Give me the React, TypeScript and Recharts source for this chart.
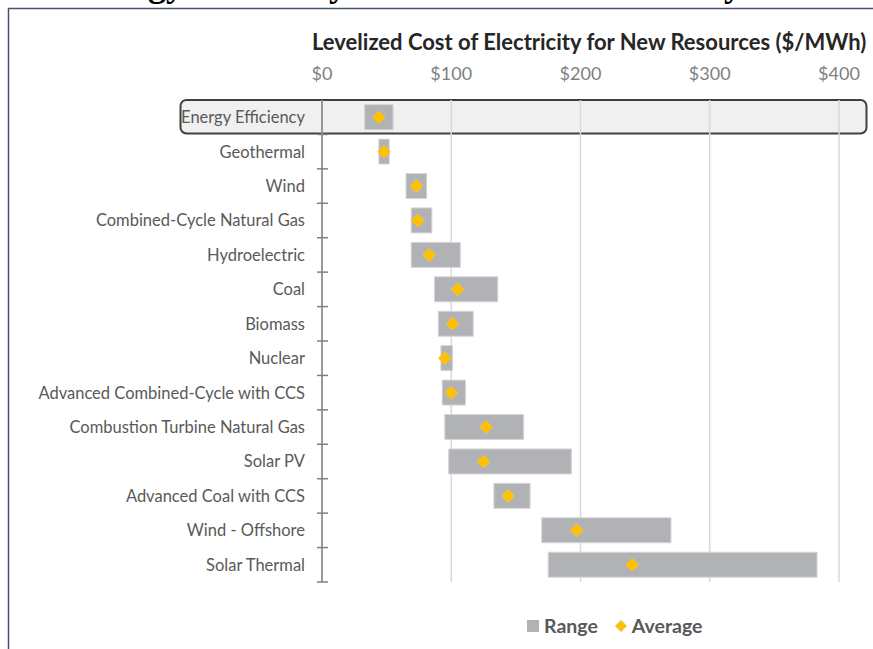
import React from "react";
import {
  ComposedChart,
  Bar,
  Line,
  XAxis,
  YAxis,
  CartesianGrid,
  Legend,
} from "recharts";

const categories = [
  "Energy Efficiency",
  "Geothermal",
  "Wind",
  "Combined-Cycle Natural Gas",
  "Hydroelectric",
  "Coal",
  "Biomass",
  "Nuclear",
  "Advanced Combined-Cycle with CCS",
  "Combustion Turbine Natural Gas",
  "Solar PV",
  "Advanced Coal with CCS",
  "Wind - Offshore",
  "Solar Thermal",
];
const rangeLow = [33, 44, 65, 69, 69, 87, 90, 92, 93, 95, 98, 133, 170, 175];
const rangeHigh = [55, 52, 81, 85, 107, 136, 117, 101, 111, 156, 193, 161, 270, 383];
const averages = [44, 48, 73, 74, 83, 105, 101, 95, 100, 127, 125, 144, 197, 240];
const xTicks = [0, 100, 200, 300, 400];

const chartTitle = "Levelized Cost of Electricity for New Resources ($/MWh)";
const pageTitle = "Energy Efficiency is the Lowest Cost Utility Resource";

const data = categories.map((name, i) => ({
  name,
  range: [rangeLow[i], rangeHigh[i]],
  avg: averages[i],
}));

const W = 873;
const H = 649;
const FONT = "Lato, 'Open Sans', sans-serif";
const PLOT_LEFT = 322;
const PLOT_TOP = 100;
const PLOT_BOTTOM = 582;
const PLOT_RIGHT = 839;
const X_AXIS_H = 40;
const LABEL_GAP = 17;
const BAND = (PLOT_BOTTOM - PLOT_TOP) / categories.length;

const CategoryTick = (props: any) => {
  const { x, y, payload } = props;
  const axisX = x + LABEL_GAP;
  return (
    <g>
      <text
        x={x}
        y={y}
        dy="0.36em"
        textAnchor="end"
        fill="#595959"
        fontSize={16.5}
        fontFamily={FONT}
      >
        {payload.value}
      </text>
      <line
        x1={axisX - 5}
        x2={axisX + 6}
        y1={y + BAND / 2}
        y2={y + BAND / 2}
        stroke="#808080"
        strokeWidth={1.5}
      />
    </g>
  );
};

const Diamond = (props: any) => {
  const { cx, cy } = props;
  if (cx == null || cy == null) return null;
  const r = 6.5;
  return (
    <polygon
      points={`${cx},${cy - r} ${cx + r},${cy} ${cx},${cy + r} ${cx - r},${cy}`}
      fill="#FFC000"
      stroke="#FFCC33"
      strokeWidth={0.5}
    />
  );
};

const LegendContent = () => (
  <div
    style={{
      display: "flex",
      alignItems: "center",
      fontFamily: FONT,
      fontWeight: 700,
      fontSize: 19.5,
      color: "#595959",
      whiteSpace: "nowrap",
    }}
  >
    <svg width={12} height={12} style={{ marginRight: 5 }}>
      <rect x={0} y={0} width={12} height={12} fill="#B1B2B5" />
    </svg>
    <span>Range</span>
    <svg width={14} height={14} style={{ marginLeft: 16, marginRight: 4 }}>
      <polygon points="7,1 13,7 7,13 1,7" fill="#FFC000" stroke="#D9D9D9" strokeWidth={0.8} />
    </svg>
    <span>Average</span>
  </div>
);

export default function App() {
  return (
    <div style={{ position: "absolute", left: 0, top: 0, width: W, height: H, background: "#fff", overflow: "hidden" }}>
      <svg width={W} height={H} style={{ position: "absolute", left: 0, top: 0 }}>
        <text
          x={72}
          y={-4}
          fontFamily="'Liberation Serif', serif"
          fontWeight={700}
          fontSize={36}
          fill="#000"
        >
          {pageTitle}
        </text>
        <line x1={8} x2={W} y1={8.5} y2={8.5} stroke="#44546A" strokeWidth={1.5} />
        <line x1={8.5} x2={8.5} y1={8} y2={H} stroke="#44546A" strokeWidth={1.5} />
        <rect
          x={180.5}
          y={PLOT_TOP}
          width={686}
          height={BAND - 1}
          rx={6}
          ry={6}
          fill="#F0F0F0"
          stroke="#404040"
          strokeWidth={2}
        />
        <text
          x={312}
          y={49.5}
          fontFamily={FONT}
          fontWeight={700}
          fontSize={22}
          fill="#262626"
        >
          {chartTitle}
        </text>
      </svg>
      <div style={{ position: "absolute", left: 0, top: 0 }}>
        <ComposedChart
          layout="vertical"
          width={W}
          height={H}
          data={data}
          margin={{ top: PLOT_TOP - X_AXIS_H, right: W - PLOT_RIGHT, bottom: H - PLOT_BOTTOM, left: 0 }}
          barCategoryGap="13.5%"
        >
          <CartesianGrid horizontal={false} stroke="#D9D9D9" strokeWidth={1.5} />
          <XAxis
            type="number"
            orientation="top"
            domain={[0, 400]}
            ticks={xTicks}
            tickFormatter={(v: number) => `$${v}`}
            axisLine={false}
            tickLine={false}
            tickSize={0}
            tickMargin={20}
            height={X_AXIS_H}
            tick={{ fill: "#808080", fontSize: 18, fontFamily: FONT }}
            interval={0}
          />
          <YAxis
            type="category"
            dataKey="name"
            width={PLOT_LEFT}
            axisLine={{ stroke: "#808080", strokeWidth: 1.5 }}
            tickLine={false}
            tickSize={0}
            tickMargin={LABEL_GAP}
            tick={<CategoryTick />}
            interval={0}
          />
          <Bar
            dataKey="range"
            name="Range"
            fill="#B1B2B5"
            stroke="#D6D6D8"
            strokeWidth={1}
            isAnimationActive={false}
          />
          <Line
            dataKey="avg"
            name="Average"
            stroke="none"
            dot={<Diamond />}
            activeDot={false}
            isAnimationActive={false}
          />
          <Legend
            layout="vertical"
            align="center"
            verticalAlign="middle"
            content={<LegendContent />}
            wrapperStyle={{ left: 527, top: 614, width: 230, height: 26 }}
          />
        </ComposedChart>
      </div>
    </div>
  );
}
